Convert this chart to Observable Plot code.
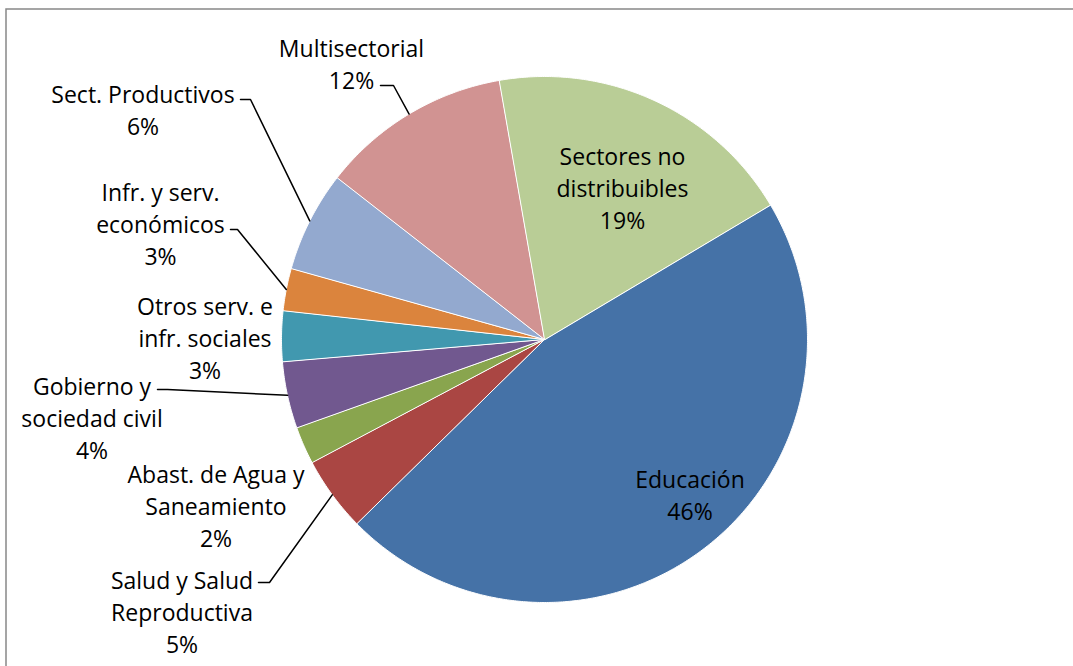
<!DOCTYPE html>
<html>
<head>
<meta charset="utf-8">
<script src="https://cdn.jsdelivr.net/npm/d3@7"></script>
<script src="https://cdn.jsdelivr.net/npm/@observablehq/plot@0.6"></script>
<style>
  html, body { margin: 0; padding: 0; background: #fff; overflow: hidden; }
  #chart svg { display: block; }
</style>
</head>
<body>
<div id="chart"></div>
<script>
// ---- Data ----
const categories = [
  "Educación",
  "Salud y Salud Reproductiva",
  "Abast. de Agua y Saneamiento",
  "Gobierno y sociedad civil",
  "Otros serv. e infr. sociales",
  "Infr. y serv. económicos",
  "Sect. Productivos",
  "Multisectorial",
  "Sectores no distribuibles"
];
const shares = [46.2, 4.6, 2.3, 4.1, 3.1, 2.6, 6.2, 11.7, 19.2];
const labelLines = [
  ["Educación"],
  ["Salud y Salud", "Reproductiva"],
  ["Abast. de Agua y", "Saneamiento"],
  ["Gobierno y", "sociedad civil"],
  ["Otros serv. e", "infr. sociales"],
  ["Infr. y serv.", "económicos"],
  ["Sect. Productivos"],
  ["Multisectorial"],
  ["Sectores no", "distribuibles"]
];

// ---- Styles / layout ----
const colors = ["#4572A7", "#AA4643", "#89A54E", "#71588F", "#4198AF", "#DB843D", "#93A9CF", "#D19392", "#B9CD96"];
const W = 1073, H = 666, cx = 544, cy = 339, R = 263, startDeg = 59.2;
// label block centers (pixels) and leader start (pixels: x1, x2, y) or null
const labelLayout = [
  {px: 689.5, py: 493, leader: null},
  {px: 181.5, py: 610, leader: [258, 269, 582]},
  {px: 215.5, py: 504, leader: null},
  {px: 91.5, py: 416.5, leader: [157, 167, 389]},
  {px: 204.5, py: 336, leader: null},
  {px: 160, py: 222.5, leader: [230, 237, 229]},
  {px: 142.5, py: 108.5, leader: [240, 250, 99]},
  {px: 351, py: 62.5, leader: [380, 393, 85]},
  {px: 622, py: 186.5, leader: null}
];
const fontSize = 23;
const lineGap = 32;

// pixel -> data units
const ux = px => (px - cx) / R;
const uy = py => (cy - py) / R;

const total = d3.sum(shares);
let cum = 0;
const slices = categories.map((cat, i) => {
  const a0 = startDeg + cum / total * 360;
  cum += shares[i];
  const a1 = startDeg + cum / total * 360;
  return {cat, share: shares[i], a0, a1, mid: (a0 + a1) / 2};
});

const rad = d => d * Math.PI / 180;
const polyPoints = [];
for (const s of slices) {
  polyPoints.push({cat: s.cat, x: 0, y: 0});
  const n = Math.max(2, Math.ceil((s.a1 - s.a0) / 0.5));
  for (let k = 0; k <= n; k++) {
    const a = rad(s.a0 + (s.a1 - s.a0) * k / n);
    polyPoints.push({cat: s.cat, x: Math.sin(a), y: Math.cos(a)});
  }
}

const leaderPoints = [];
slices.forEach((s, i) => {
  const L = labelLayout[i].leader;
  if (!L) return;
  const a = rad(s.mid);
  leaderPoints.push({cat: s.cat, x: ux(L[0]), y: uy(L[2])});
  leaderPoints.push({cat: s.cat, x: ux(L[1]), y: uy(L[2])});
  leaderPoints.push({cat: s.cat, x: Math.sin(a), y: Math.cos(a)});
});

const labels = slices.map((s, i) => ({
  cat: s.cat,
  x: ux(labelLayout[i].px),
  y: uy(labelLayout[i].py),
  text: [...labelLines[i], Math.round(s.share / total * 100) + "%"].join("\n")
}));

const chart = Plot.plot({
  width: W,
  height: H,
  margin: 0,
  style: {fontFamily: "'Open Sans', Lato, sans-serif", background: "#fff", overflow: "visible"},
  x: {domain: [ux(0), ux(W)], axis: null},
  y: {domain: [uy(H), uy(0)], axis: null},
  color: {domain: categories, range: colors},
  marks: [
    Plot.line(polyPoints, {x: "x", y: "y", z: "cat", fill: "cat", stroke: "white", strokeWidth: 1, curve: "linear-closed"}),
    Plot.line(leaderPoints, {x: "x", y: "y", z: "cat", stroke: "black", strokeWidth: 1.5}),
    Plot.text(labels, {x: "x", y: "y", text: "text", fill: "black", fontSize, lineHeight: lineGap / fontSize, textAnchor: "middle", lineAnchor: "middle"}),
    Plot.frame({stroke: "#888888", strokeWidth: 1.5, insetLeft: 5.5, insetTop: 8.5, insetRight: -20, insetBottom: -20})
  ]
});
document.getElementById("chart").appendChild(chart);
</script>
</body>
</html>
